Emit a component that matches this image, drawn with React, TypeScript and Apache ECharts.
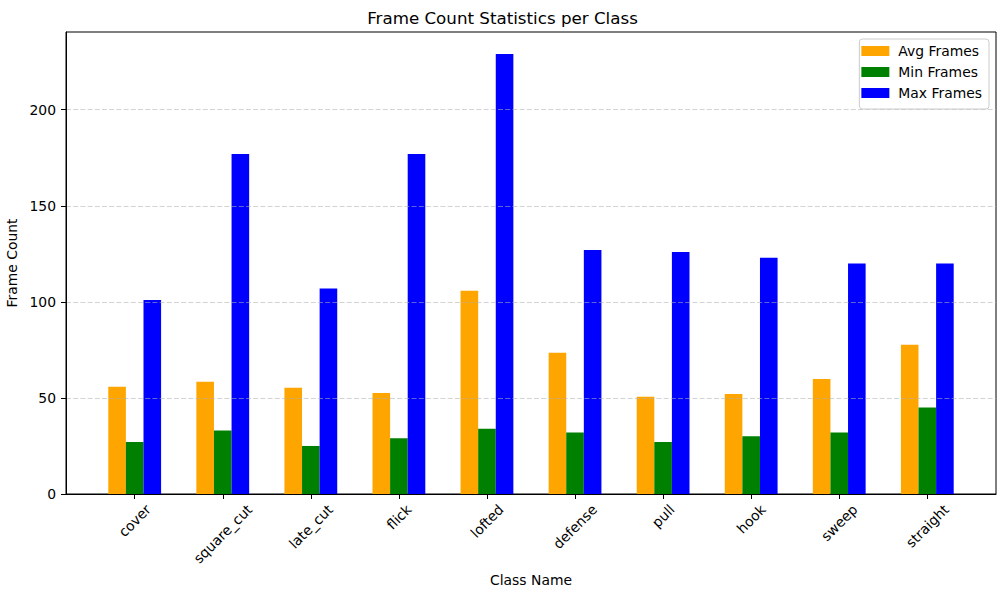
import React, { useEffect, useRef } from "react";
import * as echarts from "echarts";

const categories = ["cover", "square_cut", "late_cut", "flick", "lofted", "defense", "pull", "hook", "sweep", "straight"];
const avgFrames = [55.8, 58.4, 55.3, 52.6, 105.8, 73.5, 50.6, 52.1, 59.9, 77.7];
const minFrames = [27, 33, 25, 29, 34, 32, 27, 30, 32, 45];
const maxFrames = [101, 177, 107, 177, 229, 127, 126, 123, 120, 120];
const yTicks = [0, 50, 100, 150, 200];
const seriesNames = ["Avg Frames", "Min Frames", "Max Frames"];
const seriesColors = ["#ffa500", "#008000", "#0000ff"];

const FONT = "DejaVu Sans";
const LABEL_SIZE = 13.9;

const App = () => {
  const chartRef = useRef<HTMLDivElement>(null);

  useEffect(() => {
    const myChart = echarts.init(chartRef.current!, null, { renderer: "svg" });

    // matplotlib centres rotated tick labels under the tick; shift each label with padding
    const ctx = document.createElement("canvas").getContext("2d")!;
    ctx.font = `${LABEL_SIZE}px "${FONT}"`;
    const rich: any = {};
    categories.forEach((c, i) => {
      const a = ctx.measureText(c).width / 2;
      rich["c" + i] = {
        fontFamily: FONT,
        fontSize: LABEL_SIZE,
        color: "#000",
        lineHeight: 16,
        padding: [a, a, 0, 0],
      };
    });

    const idx = categories.map((_, i) => i);
    const dataSets = [avgFrames, minFrames, maxFrames];

    const option = {
      animation: false,
      backgroundColor: "#fff",
      title: {
        text: "Frame Count Statistics per Class",
        left: "center",
        top: 9,
        padding: 0,
        textStyle: { fontFamily: FONT, fontSize: 16.7, fontWeight: "normal", color: "#000" },
      },
      legend: {
        orient: "vertical",
        right: 16,
        top: 39,
        padding: [5, 7, 9, 2],
        itemWidth: 28,
        itemHeight: 10,
        itemGap: 7,
        icon: "rect",
        backgroundColor: "rgba(255,255,255,0.8)",
        borderColor: "#cccccc",
        borderWidth: 1,
        borderRadius: 3,
        textStyle: {
          fontFamily: FONT,
          fontSize: LABEL_SIZE,
          color: "#000",
          lineHeight: 14,
          padding: [0, 0, 0, 4],
        },
        data: seriesNames,
      },
      grid: {
        left: 66,
        right: 9,
        top: 32,
        bottom: 103,
        show: true,
        borderColor: "#000",
        borderWidth: 1,
        containLabel: false,
        outerBoundsMode: "none",
      },
      xAxis: {
        type: "value",
        min: -0.78,
        max: 9.78,
        z: 4,
        name: "Class Name",
        nameLocation: "middle",
        nameGap: 75,
        nameTextStyle: { fontFamily: FONT, fontSize: LABEL_SIZE, color: "#000" },
        axisLine: { show: true, onZero: false, lineStyle: { color: "#000", width: 1 } },
        axisTick: { show: true, length: 5, customValues: idx, lineStyle: { color: "#000" } },
        axisLabel: {
          customValues: idx,
          rotate: 45,
          align: "center",
          verticalAlign: "middle",
          margin: 13,
          formatter: (v: number) => `{c${Math.round(v)}|${categories[Math.round(v)]}}`,
          rich,
        },
        splitLine: { show: false },
      },
      yAxis: {
        type: "value",
        min: 0,
        max: 240.45,
        interval: 50,
        z: 3,
        name: "Frame Count",
        nameLocation: "middle",
        nameRotate: 90,
        nameGap: 41,
        nameTextStyle: { fontFamily: FONT, fontSize: LABEL_SIZE, color: "#000" },
        axisLine: { show: true, onZero: false, lineStyle: { color: "#000", width: 1 } },
        axisTick: { show: true, length: 5, customValues: yTicks, lineStyle: { color: "#000" } },
        axisLabel: {
          customValues: yTicks,
          margin: 10,
          fontFamily: FONT,
          fontSize: LABEL_SIZE,
          color: "#000",
        },
        splitLine: {
          show: true,
          lineStyle: { color: "rgba(176,176,176,0.7)", type: [5, 2.2], width: 0.8 },
        },
      },
      series: seriesNames.map((name, s) => ({
        name,
        type: "bar",
        barWidth: 17.6,
        barGap: "0%",
        itemStyle: { color: seriesColors[s] },
        data: dataSets[s].map((v, i) => [idx[i], v]),
      })),
    };
    myChart.setOption(option as any);

    return () => {
      myChart.dispose();
    };
  }, []);

  return (
    <div
      ref={chartRef}
      style={{ position: "absolute", left: 0, top: 0, width: 1005, height: 597 }}
    ></div>
  );
};
export default App;
